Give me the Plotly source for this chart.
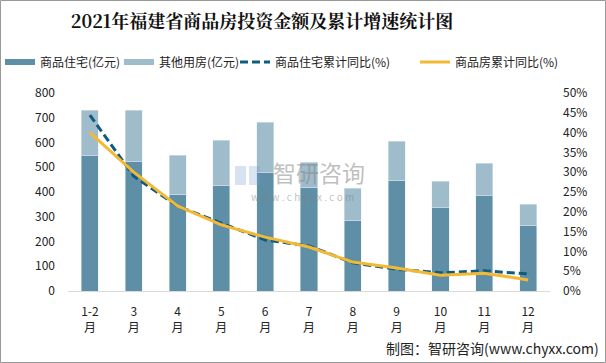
import plotly.graph_objects as go

categories = ["1-2<br>月", "3<br>月", "4<br>月", "5<br>月", "6<br>月", "7<br>月",
              "8<br>月", "9<br>月", "10<br>月", "11<br>月", "12<br>月"]
residential = [548, 524, 391, 427, 480, 419, 286, 448, 339, 387, 266]
other = [182, 206, 157, 182, 201, 101, 129, 157, 104, 129, 85]
res_growth = [0.444, 0.290, 0.214, 0.172, 0.129, 0.114, 0.071, 0.055, 0.046, 0.051, 0.043]
total_growth = [0.400, 0.300, 0.215, 0.167, 0.136, 0.111, 0.073, 0.058, 0.040, 0.045, 0.028]
legend_names = ["商品住宅(亿元)", "其他用房(亿元)", "商品住宅累计同比(%)", "商品房累计同比(%)"]

C_DARK = "#5e8fa6"
C_LIGHT = "#9fbccb"
C_DASH = "#0f5c80"
C_YEL = "#f4b934"
FONT = "Noto Sans CJK SC"
DASH = "8px,4px"

fig = go.Figure()
fig.add_bar(x=categories, y=residential, marker_color=C_DARK, showlegend=False)
fig.add_bar(x=categories, y=other, marker_color=C_LIGHT, showlegend=False)
fig.add_scatter(x=categories, y=res_growth, yaxis="y2", mode="lines",
                line=dict(color=C_DASH, width=3, dash=DASH), showlegend=False)
fig.add_scatter(x=categories, y=total_growth, yaxis="y2", mode="lines",
                line=dict(color=C_YEL, width=3), showlegend=False)

# legend proxies, each in its own legend for exact placement
proxy_lines = [dict(color=C_DARK, width=6), dict(color=C_LIGHT, width=6),
               dict(color=C_DASH, width=3, dash=DASH), dict(color=C_YEL, width=3)]
legend_ids = ["legend", "legend2", "legend3", "legend4"]
for name, ln, lid in zip(legend_names, proxy_lines, legend_ids):
    fig.add_scatter(x=[None], y=[None], mode="lines", name=name, line=ln, legend=lid)

L, R, T, B = 68, 56, 93, 72
W, H = 606, 363
pw, ph = W - L - R, H - T - B


def px(x):
    return (x - L) / pw


def py(y):
    return (T + ph - y) / ph


def leg(xpix):
    return dict(orientation="h", xref="container", yref="container",
                x=xpix / W, xanchor="left", y=1 - 62 / H, yanchor="middle",
                font=dict(size=12, color="#222"), itemwidth=30,
                bgcolor="rgba(0,0,0,0)", borderwidth=0)


fig.update_layout(
    width=W, height=H,
    margin=dict(l=L, r=R, t=T, b=B, autoexpand=False),
    paper_bgcolor="white", plot_bgcolor="white",
    barmode="stack", bargap=0.61,
    font=dict(family=FONT, size=12, color="#222"),
    title=dict(text="<b>2021年福建省商品房投资金额及累计增速统计图</b>",
               x=262 / W, xanchor="center", xref="container",
               y=1 - 22 / H, yanchor="middle",
               font=dict(family="Noto Serif CJK SC, " + FONT, size=18, color="#111")),
    legend=leg(0),
    legend2=leg(119),
    legend3=leg(235),
    legend4=leg(415),
    xaxis=dict(showline=True, linecolor="#d9d9d9", linewidth=1, ticks="",
               tickfont=dict(size=12), showgrid=False, ticklabelstandoff=10),
    yaxis=dict(range=[0, 800], dtick=100, showgrid=False, zeroline=False,
               ticklabelstandoff=12, tickfont=dict(size=12)),
    yaxis2=dict(range=[0, 0.5], dtick=0.05, tickformat=".0%", overlaying="y",
                side="right", showgrid=False, zeroline=False,
                ticklabelstandoff=12, tickfont=dict(size=12)),
    shapes=[
        dict(type="rect", xref="paper", yref="paper",
             x0=px(0.5), x1=px(W - 0.5), y0=py(H - 0.5), y1=py(0.5),
             line=dict(color="#999", width=1)),
        # watermark logo approximation
        dict(type="rect", xref="paper", yref="paper", x0=px(235), x1=px(246),
             y0=py(185), y1=py(166), line=dict(width=0),
             fillcolor="rgba(120,150,200,0.28)", layer="above"),
        dict(type="rect", xref="paper", yref="paper", x0=px(249), x1=px(260),
             y0=py(185), y1=py(166), line=dict(width=0),
             fillcolor="rgba(120,160,210,0.28)", layer="above"),
    ],
    annotations=[
        dict(text="制图：智研咨询(www.chyxx.com)", xref="paper", yref="paper",
             x=px(W - 5), y=py(348), xanchor="right",
             yanchor="middle", showarrow=False, font=dict(size=14, color="#222")),
        dict(text="智研咨询", xref="paper", yref="paper",
             x=px(319), y=py(172), xanchor="center",
             yanchor="middle", showarrow=False,
             font=dict(size=23, color="rgba(128,128,128,0.5)")),
        dict(text="w w w . c h y x x . c o m", xref="paper", yref="paper",
             x=px(302), y=py(196), xanchor="center",
             yanchor="middle", showarrow=False,
             font=dict(size=10, color="rgba(128,128,128,0.5)")),
    ],
)

fig.write_html("out.html", config={"displayModeBar": False},
               post_script="document.body.style.margin='0';")
